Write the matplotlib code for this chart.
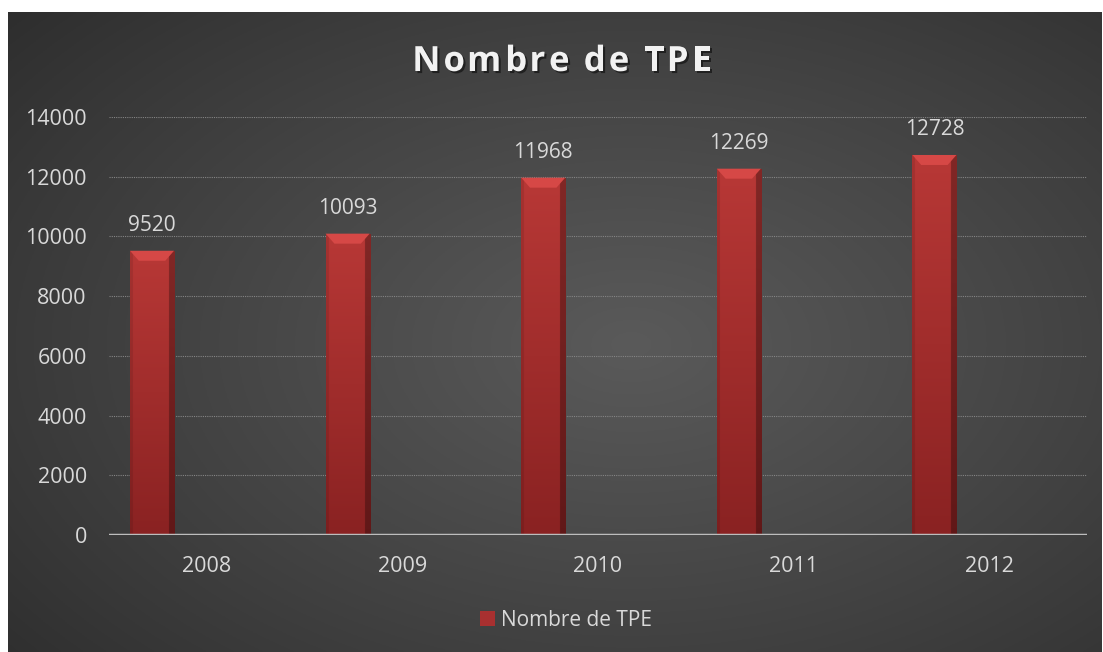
import matplotlib.pyplot as plt
import matplotlib.patheffects as pe
import numpy as np
from matplotlib.patches import Polygon

years = ['2008', '2009', '2010', '2011', '2012']
tpe = [9520, 10093, 11968, 12269, 12728]
series_name = 'Nombre de TPE'
yticks = [0, 2000, 4000, 6000, 8000, 10000, 12000, 14000]

plt.rcParams['font.family'] = ['Open Sans', 'DejaVu Sans']

W, H = 1103, 652
fig = plt.figure(figsize=(W / 100, H / 100), dpi=100)
fig.patch.set_facecolor('white')

# dark radial background of the chart area
bg = fig.add_axes([8 / W, 0, 1 - 9 / W, 1 - 12 / H])
bg.set_axis_off()
yy, xx = np.mgrid[0:1:300j, 0:1:500j]
r = np.sqrt(((xx - 0.57) / 0.8) ** 2 + ((yy - 0.52) / 0.85) ** 2)
shade = np.clip(1 - r, 0, 1) ** 0.9
dark = np.array([0x2a, 0x2a, 0x2a]) / 255
light = np.array([0x5a, 0x5a, 0x5a]) / 255
bg.imshow(dark + (light - dark) * shade[..., None], aspect='auto', extent=[0, 1, 0, 1])

ax = fig.add_axes([109 / W, (H - 535) / H, (1087 - 109) / W, (535 - 117) / H])
ax.patch.set_alpha(0)

x = np.arange(len(years))
width = 0.225
offset = -0.28
bars = ax.bar(x + offset, tpe, width, color='#a83030', zorder=3)

# gradient fill + bevel on each bar
px_y = 14000 / 418
gy = np.linspace(1, 0, 100)[:, None]
gx = np.linspace(0, 1, 30)[None, :]
top_c = np.array([0xb8, 0x38, 0x36]) / 255
bot_c = np.array([0x8a, 0x22, 0x22]) / 255
grad = bot_c + (top_c - bot_c) * gy[..., None]
edge = np.where(gx > 0.88, 0.7, 1.0) * np.where(gx < 0.05, 0.9, 1.0)
grad = grad * edge[..., None]
for b in bars:
    x0, w, h = b.get_x(), b.get_width(), b.get_height()
    im = ax.imshow(grad, extent=[x0, x0 + w, 0, h], aspect='auto', zorder=3.5)
    im.set_clip_path(b)
    bev = Polygon([[x0, h], [x0 + w, h], [x0 + w * 0.8, h - 10 * px_y], [x0 + w * 0.2, h - 10 * px_y]],
                  closed=True, facecolor='#d64846', edgecolor='none', zorder=4)
    ax.add_patch(bev)
    ax.text(x0 + w / 2, h + 20 * px_y, str(h), ha='center', va='baseline',
            fontsize=15, color='#d9d9d9', zorder=5)

ax.set_xlim(-0.5, len(years) - 0.5)
ax.set_ylim(0, 14000)
ax.set_yticks(yticks)
ax.set_xticks(x)
ax.set_xticklabels(years)
ax.tick_params(axis='both', length=0, labelsize=15.5, labelcolor='#d9d9d9')
ax.tick_params(axis='x', pad=15)
ax.tick_params(axis='y', pad=16)
ax.yaxis.grid(True, color='#858585', linestyle=(0, (1, 1)), linewidth=0.8, zorder=1)
ax.set_axisbelow(True)
for s in ax.spines.values():
    s.set_visible(False)
ax.axhline(0, color='#bdbdbd', linewidth=2.5, zorder=6)

# title with letter spacing, drawn char by char
renderer = fig.canvas.get_renderer()
tkw = dict(fontsize=25, fontweight='bold')
def text_w(s):
    t = fig.text(0, 0, s, **tkw)
    wpx = t.get_window_extent(renderer).width
    t.remove()
    return wpx
spacing = 3.0
ref_w = text_w('x')
pos = [text_w(series_name[:i] + 'x') - ref_w + i * spacing if i else 0 for i in range(len(series_name))]
total = pos[-1] + text_w(series_name[-1])
start = 562 - total / 2
for c, p in zip(series_name, pos):
    if c == ' ':
        continue
    fig.text((start + p) / W, 1 - 62 / H, c, ha='left', va='center', color='#f2f2f2',
             path_effects=[pe.withSimplePatchShadow(offset=(1.5, -1.5), shadow_rgbFace='black', alpha=0.5)],
             **tkw)

fig.legend(handles=[bars], labels=[series_name], loc='center', bbox_to_anchor=(566 / W, 1 - 620 / H),
           frameon=False, handlelength=0.7, handleheight=0.7, handletextpad=0.3,
           labelcolor='#d9d9d9', fontsize=15)

fig.savefig('out.png', dpi=100)
